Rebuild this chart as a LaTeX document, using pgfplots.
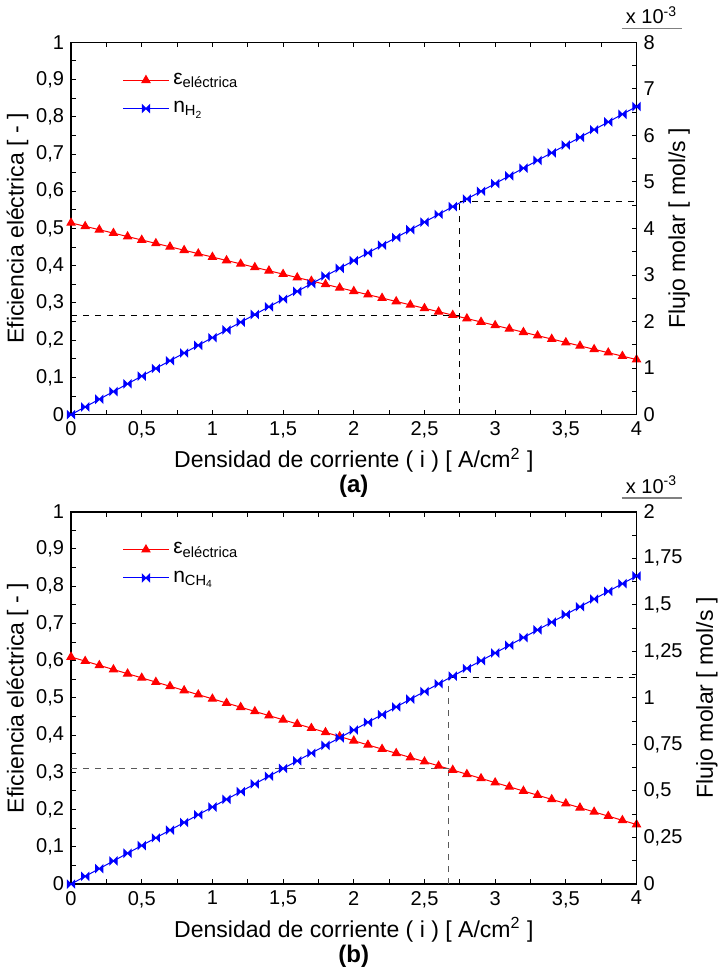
\documentclass[border=0pt]{standalone}
\usepackage{pgfplots}
\pgfplotsset{compat=1.18}
\usepackage{fontspec}
\setmainfont{Liberation Sans}
\pgfdeclareplotmark{bowtie}{%
  \pgfpathmoveto{\pgfqpoint{-\pgfplotmarksize}{\pgfplotmarksize}}%
  \pgfpathlineto{\pgfqpoint{\pgfplotmarksize}{-\pgfplotmarksize}}%
  \pgfpathlineto{\pgfqpoint{\pgfplotmarksize}{\pgfplotmarksize}}%
  \pgfpathlineto{\pgfqpoint{-\pgfplotmarksize}{-\pgfplotmarksize}}%
  \pgfpathclose
  \pgfusepathqfillstroke}
\pgfplotsset{
  base/.style={
    scale only axis, width=282.5pt, height=186pt,
    xmin=0, xmax=4,
    tick align=inside,
    major tick length=2.5pt, minor tick length=2.5pt,
    every tick/.style={black, line width=0.5pt},
    axis line style={line width=0.8pt},
    /pgf/number format/use comma,
    /pgf/number format/assume math mode=true,
    tick label style={font=\fontsize{10}{12}\selectfont},
    label style={font=\fontsize{11.5}{13}\selectfont},
  },
  leftax/.style={base,
    ymin=0, ymax=1,
    xtick={0,0.5,1,1.5,2,2.5,3,3.5,4},
    minor x tick num=1,
    ytick={0,0.1,0.2,0.3,0.4,0.5,0.6,0.7,0.8,0.9,1},
    minor y tick num=1,
    xtick pos=both, ytick pos=left,
    xlabel={Densidad de corriente ( i ) [ A/cm\textsuperscript{2} ]},
    ylabel={Eficiencia eléctrica [ - ]},
    xlabel style={yshift=2pt},
    ylabel style={yshift=-3pt},
    legend style={at={(0.08,0.94)}, anchor=north west, draw=none, fill=none,
      font=\fontsize{10.5}{12}\selectfont, row sep=3pt,
      legend cell align=left},
    legend image code/.code={%
      \draw[mark repeat=2,mark phase=2,#1] plot coordinates {(0cm,0cm) (0.4cm,0cm) (0.8cm,0cm)};},
  },
  rightax/.style={base,
    axis y line*=right, axis x line=none,
    ymin=0,
    ylabel={Flujo molar [ mol/s ]},
  },
  redline/.style={red, line width=0.5pt, mark=triangle*, mark size=2.3pt, mark options={solid, fill=red}},
  blueline/.style={blue, line width=0.5pt, mark=bowtie, mark size=1.8pt, mark options={solid, fill=blue}},
  dash/.style={black, dashed, line width=0.5pt, forget plot},
}
\pgfplotstableread{
x r b
0.0 0.5150 0.0000
0.1 0.5058 0.1655
0.2 0.4967 0.3310
0.3 0.4875 0.4965
0.4 0.4783 0.6620
0.5 0.4691 0.8275
0.6 0.4600 0.9930
0.7 0.4508 1.1585
0.8 0.4416 1.3240
0.9 0.4324 1.4895
1.0 0.4233 1.6550
1.1 0.4141 1.8205
1.2 0.4049 1.9860
1.3 0.3957 2.1515
1.4 0.3866 2.3170
1.5 0.3774 2.4825
1.6 0.3682 2.6480
1.7 0.3590 2.8135
1.8 0.3499 2.9790
1.9 0.3407 3.1445
2.0 0.3315 3.3100
2.1 0.3223 3.4755
2.2 0.3132 3.6410
2.3 0.3040 3.8065
2.4 0.2948 3.9720
2.5 0.2856 4.1375
2.6 0.2765 4.3030
2.7 0.2673 4.4685
2.8 0.2581 4.6340
2.9 0.2489 4.7995
3.0 0.2398 4.9650
3.1 0.2306 5.1305
3.2 0.2214 5.2960
3.3 0.2122 5.4615
3.4 0.2031 5.6270
3.5 0.1939 5.7925
3.6 0.1847 5.9580
3.7 0.1755 6.1235
3.8 0.1664 6.2890
3.9 0.1572 6.4545
4.0 0.1480 6.6200
}\dataA
\pgfplotstableread{
x r b
0.0 0.61000 0.0000
0.1 0.59875 0.0414
0.2 0.58750 0.0828
0.3 0.57625 0.1241
0.4 0.56500 0.1655
0.5 0.55375 0.2069
0.6 0.54250 0.2483
0.7 0.53125 0.2896
0.8 0.52000 0.3310
0.9 0.50875 0.3724
1.0 0.49750 0.4138
1.1 0.48625 0.4551
1.2 0.47500 0.4965
1.3 0.46375 0.5379
1.4 0.45250 0.5793
1.5 0.44125 0.6206
1.6 0.43000 0.6620
1.7 0.41875 0.7034
1.8 0.40750 0.7448
1.9 0.39625 0.7861
2.0 0.38500 0.8275
2.1 0.37375 0.8689
2.2 0.36250 0.9103
2.3 0.35125 0.9516
2.4 0.34000 0.9930
2.5 0.32875 1.0344
2.6 0.31750 1.0758
2.7 0.30625 1.1171
2.8 0.29500 1.1585
2.9 0.28375 1.1999
3.0 0.27250 1.2413
3.1 0.26125 1.2826
3.2 0.25000 1.3240
3.3 0.23875 1.3654
3.4 0.22750 1.4068
3.5 0.21625 1.4481
3.6 0.20500 1.4895
3.7 0.19375 1.5309
3.8 0.18250 1.5723
3.9 0.17125 1.6136
4.0 0.16000 1.6550
}\dataB
\begin{document}
\begin{tikzpicture}
% ---------- panel (a) ----------
\begin{axis}[leftax, name=al, at={(0,0)}, anchor=south west]
  \addplot[redline] table[x=x, y=r] {\dataA};
  \addlegendentry{ε\textsubscript{eléctrica}}
  \addlegendimage{blueline}
  \addlegendentry{n\textsubscript{H\textsubscript{2}}}
  \addplot[dash] coordinates {(0,0.265) (2.75,0.265)};
  \addplot[dash] coordinates {(2.75,0) (2.75,0.571)};
\end{axis}
\begin{axis}[rightax, name=ar, at={(0,0)}, anchor=south west,
  ymax=8, ytick={0,1,2,3,4,5,6,7,8}, minor y tick num=1]
  \addplot[blueline] table[x=x, y=b] {\dataA};
  \addplot[dash] coordinates {(2.75,4.57) (4,4.57)};
\end{axis}
\node[font=\fontsize{12}{14}\selectfont\bfseries] at ([yshift=-36pt]al.south) {(a)};
\node[font=\fontsize{10}{12}\selectfont] at ([xshift=7.5pt, yshift=13.5pt]ar.north east) {x 10\textsuperscript{-3}};
\draw[gray, line width=0.8pt] ([xshift=-7.5pt, yshift=7pt]ar.north east) -- ++(30pt,0);
% ---------- panel (b) ----------
\begin{axis}[leftax, name=bl, at={(0,-234.5pt)}, anchor=south west]
  \addplot[redline] table[x=x, y=r] {\dataB};
  \addlegendentry{ε\textsubscript{eléctrica}}
  \addlegendimage{blueline}
  \addlegendentry{n\textsubscript{CH\textsubscript{4}}}
  \addplot[dash, gray!70!black] coordinates {(0,0.31) (2.67,0.31)};
  \addplot[dash, gray!70!black] coordinates {(2.67,0) (2.67,0.555)};
\end{axis}
\begin{axis}[rightax, name=br, at={(0,-234.5pt)}, anchor=south west,
  ymax=2, ytick={0,0.25,0.5,0.75,1,1.25,1.5,1.75,2}, minor y tick num=1]
  \addplot[blueline] table[x=x, y=b] {\dataB};
  \addplot[dash] coordinates {(2.67,1.11) (4,1.11)};
\end{axis}
\node[font=\fontsize{12}{14}\selectfont\bfseries] at ([yshift=-36pt]bl.south) {(b)};
\node[font=\fontsize{10}{12}\selectfont] at ([xshift=7.5pt, yshift=13.5pt]br.north east) {x 10\textsuperscript{-3}};
\draw[gray, line width=0.8pt] ([xshift=-7.5pt, yshift=7pt]br.north east) -- ++(30pt,0);
\end{tikzpicture}
\end{document}
